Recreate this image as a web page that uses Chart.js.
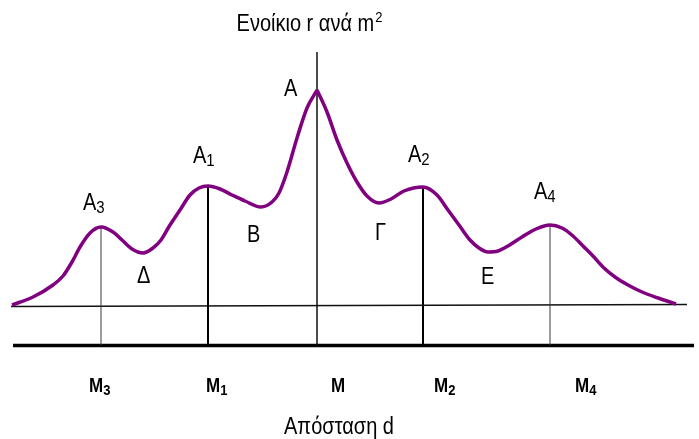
<!DOCTYPE html>
<html>
<head>
<meta charset="utf-8">
<script src="https://cdn.jsdelivr.net/npm/chart.js@4/dist/chart.umd.min.js"></script>
<style>
  html, body { margin: 0; padding: 0; background: #fff; }
  #wrap { width: 699px; height: 439px; }
</style>
</head>
<body>
<div id="wrap"><canvas id="rentChart" width="699" height="439"></canvas></div>
<script>
// distance from the centre M (left negative) and rent per m2 along the street
const distance = [-152.5, -142, -132, -127, -122.5, -118.5, -113.5, -108, -102, -97.5, -92.5, -87, -82, -78,
  -73.5, -68.5, -63.5, -59, -54.5, -48.5, -42.5, -36, -28, -22.5, -19, -15, -10, -5, 0,
  5, 10, 15, 20, 25, 31, 37, 43.5, 53, 60, 65.5, 71, 76.5, 81, 85.5, 90.5, 95.5, 102.5, 109.5, 116.5,
  122.5, 128, 133, 138, 143.5, 149, 155.5, 162.5, 170.5, 179.5];
const rent = [0, 4, 10, 14.5, 21.5, 29, 36, 39, 36.5, 32.5, 28, 26, 28.5, 32.5,
  40, 47.5, 55, 58.5, 59.5, 58, 55, 52, 49, 51.5, 56, 66.5, 83.5, 98.5, 107.5,
  96.5, 82.5, 71, 61.5, 54.5, 51, 53, 57, 59, 55, 47.5, 40, 32.5, 28.5, 26.5, 27, 29.5, 34, 38, 40,
  38.5, 34.5, 29.5, 24.5, 18.5, 14, 10, 6.5, 3.5, 0.5];

// sub-centres M3, M1, M, M2, M4
const centreNames = ['Μ', 'Μ', 'Μ', 'Μ', 'Μ'];
const centreSubs = ['3', '1', '', '2', '4'];
const centreDistance = [-108, -54.5, 0, 53, 116.5];
const centreTop = [39, 59.5, 126.5, 59, 40];

// the two horizontal axes
const rentZero = [-0.75, 0.25];
const rentZeroEnds = [-153, 185];
const distanceAxisLevel = -20.25;
const distanceAxisEnds = [-152, 188.5];

const peakIndex = rent.indexOf(Math.max(...rent));

const toPoints = (xs, ys) => xs.map((d, i) => ({ x: d, y: ys[i] }));
const curvePts = toPoints(distance, rent);

const centreWidths = [1, 2, 1.5, 2, 1];
const centreColors = ['#3a3a3a', '#000', '#111', '#000', '#3a3a3a'];

const datasets = [];

// rent curve, split at the peak so the top stays pointed
[curvePts.slice(0, peakIndex + 1), curvePts.slice(peakIndex)].forEach(pts => {
  datasets.push({
    data: pts,
    borderColor: '#800080',
    borderWidth: 3.5,
    cubicInterpolationMode: 'monotone',
    pointRadius: 0,
    order: 0
  });
});

centreDistance.forEach((d, i) => {
  datasets.push({
    data: [{ x: d, y: distanceAxisLevel }, { x: d, y: centreTop[i] }],
    borderColor: centreColors[i],
    borderWidth: centreWidths[i],
    pointRadius: 0,
    order: 2
  });
});

datasets.push({
  data: toPoints(rentZeroEnds, rentZero),
  borderColor: '#111',
  borderWidth: 1.5,
  pointRadius: 0,
  order: 2
});
datasets.push({
  data: distanceAxisEnds.map(d => ({ x: d, y: distanceAxisLevel })),
  borderColor: '#000',
  borderWidth: 3.5,
  pointRadius: 0,
  order: 2
});

// text placed in chart units: left edge of the letter and its baseline
const letterLabels = [
  { text: 'Α', sub: '', d: -16.5, r: 104.5 },
  { text: 'Α', sub: '1', d: -62, r: 71 },
  { text: 'Α', sub: '2', d: 45.5, r: 71.5 },
  { text: 'Α', sub: '3', d: -117, r: 47.5 },
  { text: 'Α', sub: '4', d: 108.5, r: 53 },
  { text: 'Β', sub: '', d: -35, r: 31.5 },
  { text: 'Γ', sub: '', d: 29, r: 32.5 },
  { text: 'Δ', sub: '', d: -90, r: 11 },
  { text: 'Ε', sub: '', d: 82, r: 10.5 }
];
const centreLabelLeft = [-114, -55.5, 7, 58.5, 129];
const centreLabelLevel = -43.5;

const FONT = '"Liberation Sans", Arial, sans-serif';
const STRETCH = 1.15;

// text drawn slightly taller than the font's own proportions
function tallText(ctx, str, px, py, font) {
  ctx.save();
  ctx.font = font;
  ctx.translate(px, py);
  ctx.scale(1, STRETCH);
  ctx.fillText(str, 0, 0);
  ctx.restore();
}

function drawWithSub(ctx, text, sub, px, py, size, subSize, weight) {
  ctx.textAlign = 'left';
  const font = `${weight} ${size}px ${FONT}`;
  tallText(ctx, text, px, py, font);
  if (sub) {
    ctx.font = font;
    const w = ctx.measureText(text).width;
    tallText(ctx, sub, px + w, py + 3, `${weight} ${subSize}px ${FONT}`);
  }
}

const diagramText = {
  id: 'diagramText',
  afterDraw(chart) {
    const { ctx, scales: { x, y } } = chart;
    ctx.save();
    ctx.fillStyle = '#000';
    ctx.textBaseline = 'alphabetic';

    letterLabels.forEach(l => {
      drawWithSub(ctx, l.text, l.sub, x.getPixelForValue(l.d), y.getPixelForValue(l.r), 20, 15, 'normal');
    });

    centreNames.forEach((n, i) => {
      drawWithSub(ctx, n, centreSubs[i], x.getPixelForValue(centreLabelLeft[i]),
        y.getPixelForValue(centreLabelLevel), 17, 13, 'bold');
    });

    // vertical axis title with superscript
    const main = 'Ενοίκιο r ανά m';
    ctx.font = `20px ${FONT}`;
    const mw = ctx.measureText(main).width;
    ctx.font = `13px ${FONT}`;
    const sw = ctx.measureText('2').width;
    const left = x.getPixelForValue(-4) - (mw + sw) / 2;
    const base = y.getPixelForValue(137);
    tallText(ctx, main, left, base, `20px ${FONT}`);
    tallText(ctx, '2', left + mw + 1, base - 9, `13px ${FONT}`);

    // horizontal axis title
    ctx.textAlign = 'center';
    tallText(ctx, 'Απόσταση d', x.getPixelForValue(11), y.getPixelForValue(-64.5), `20px ${FONT}`);
    ctx.restore();
  }
};

new Chart(document.getElementById('rentChart'), {
  type: 'line',
  data: { datasets },
  options: {
    responsive: false,
    animation: false,
    layout: { padding: 0 },
    plugins: { legend: { display: false }, tooltip: { enabled: false }, title: { display: false } },
    scales: {
      x: { type: 'linear', display: false, min: -158.5, max: 191 },
      y: { type: 'linear', display: false, min: -67, max: 152.5 }
    }
  },
  plugins: [diagramText]
});
</script>
</body>
</html>
